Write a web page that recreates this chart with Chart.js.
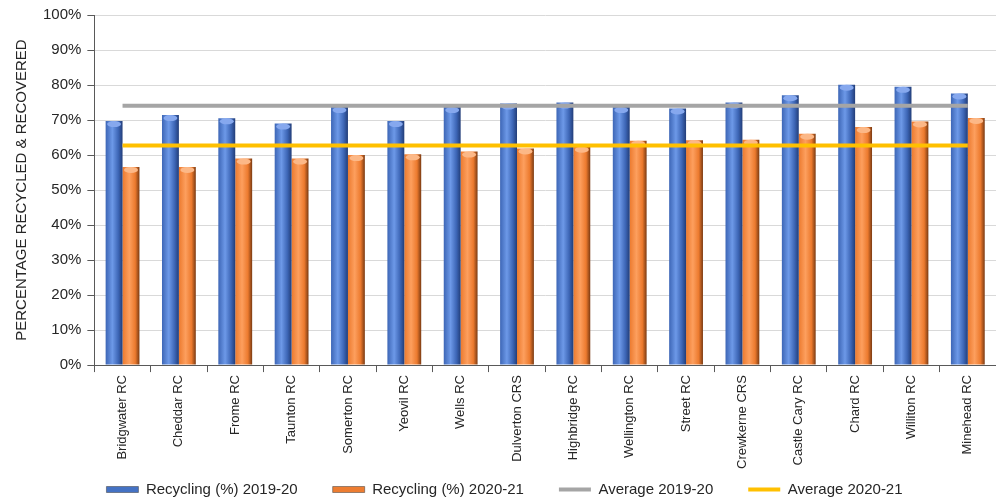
<!DOCTYPE html>
<html>
<head>
<meta charset="utf-8">
<script src="https://cdn.jsdelivr.net/npm/chart.js@4"></script>
<style>
    body { margin: 0; background: #fff; }
    #wrap { width: 996px; height: 497px; }
</style>
</head>
<body>
<div id="wrap"><canvas id="grafico"></canvas></div>
<script>
const sites = ['Bridgwater RC', 'Cheddar RC', 'Frome RC', 'Taunton RC', 'Somerton RC', 'Yeovil RC', 'Wells RC', 'Dulverton CRS',
    'Highbridge RC', 'Wellington RC', 'Street RC', 'Crewkerne CRS', 'Castle Cary RC', 'Chard RC', 'Williton RC', 'Minehead RC'];
const recycling1920 = [69.7, 71.4, 70.5, 69.0, 73.7, 69.7, 73.7, 74.7, 75.0, 73.7, 73.3, 75.0, 77.1, 80.1, 79.5, 77.6];
const recycling2021 = [56.6, 56.6, 59.0, 59.0, 60.0, 60.2, 61.0, 61.9, 62.4, 64.1, 64.2, 64.4, 66.1, 68.0, 69.6, 70.6];
const average1920 = 74.1;
const average2021 = 62.7;
const yTicks = [0, 10, 20, 30, 40, 50, 60, 70, 80, 90, 100];

const fonte = "'Liberation Sans', Arial, sans-serif";
const catPct = 0.6;

// cores dos cilindros: borda esquerda, meio, borda direita
const tonsAzul = ['#3d66b6', '#6d99e8', '#223d78'];
const tonsLaranja = ['#ec7a2e', '#fd9f5e', '#7a3a12'];

function gradienteBarra(c, tons, base) {
    const chart = c.chart;
    const x = chart.scales.x;
    if (!x || !chart.chartArea) return base;
    const centro = x.getPixelForValue(c.dataIndex);
    const w = (x.width / sites.length) * catPct / 2;
    const esq = c.datasetIndex === 0 ? centro - w : centro;
    const g = chart.ctx.createLinearGradient(esq, 0, esq + w, 0);
    g.addColorStop(0, tons[0]);
    g.addColorStop(0.4, tons[1]);
    g.addColorStop(0.75, tons[0]);
    g.addColorStop(1, tons[2]);
    return g;
}

// tampa clara no topo de cada barra
const tampaPlugin = {
    id: 'tampa',
    afterDatasetDraw(chart, args) {
        const ds = chart.data.datasets[args.index];
        if (!ds.tampa) return;
        const ctx = chart.ctx;
        ctx.save();
        args.meta.data.forEach(el => {
            const p = el.getProps(['x', 'y', 'width']);
            ctx.beginPath();
            ctx.ellipse(p.x, p.y + 3, p.width / 2 - 1.5, 3, 0, 0, Math.PI * 2);
            ctx.fillStyle = ds.tampa;
            ctx.fill();
        });
        ctx.restore();
    }
};

const ctx = document.getElementById('grafico').getContext('2d');
new Chart(ctx, {
    data: {
        labels: sites,
        datasets: [{
            type: 'bar',
            label: 'Recycling (%) 2019-20',
            data: recycling1920,
            backgroundColor: c => gradienteBarra(c, tonsAzul, '#4472C4'),
            legendColor: '#4472C4',
            tampa: '#86a8ee',
            order: 1,
            pointStyle: 'rect'
        },
        {
            type: 'bar',
            label: 'Recycling (%) 2020-21',
            data: recycling2021,
            backgroundColor: c => gradienteBarra(c, tonsLaranja, '#ED7D31'),
            legendColor: '#ED7D31',
            tampa: '#fcb887',
            order: 1,
            pointStyle: 'rect'
        },
        {
            type: 'line',
            label: 'Average 2019-20',
            data: [{x: sites[0], y: average1920}, {x: sites[sites.length - 1], y: average1920}],
            borderColor: '#A5A5A5',
            backgroundColor: '#A5A5A5',
            borderWidth: 4,
            pointRadius: 0,
            order: 0,
            pointStyle: 'line'
        },
        {
            type: 'line',
            label: 'Average 2020-21',
            data: [{x: sites[0], y: average2021}, {x: sites[sites.length - 1], y: average2021}],
            borderColor: '#FFC000',
            backgroundColor: '#FFC000',
            borderWidth: 4,
            pointRadius: 0,
            order: 0,
            pointStyle: 'line'
        }]
    },
    options: {
        responsive: true,
        maintainAspectRatio: false,
        animation: false,
        layout: { padding: { left: 13, right: 0, top: 15, bottom: -10 } },
        datasets: {
            bar: { categoryPercentage: catPct, barPercentage: 1 }
        },
        plugins: {
            tooltip: { enabled: false },
            legend: {
                position: 'bottom',
                labels: {
                    font: { family: fonte, size: 15 },
                    color: '#262626',
                    usePointStyle: true,
                    pointStyleWidth: 32,
                    boxHeight: 6,
                    padding: 10,
                    sort: (a, b) => a.datasetIndex - b.datasetIndex,
                    generateLabels: function(chart) {
                        const itens = Chart.defaults.plugins.legend.labels.generateLabels(chart);
                        itens.forEach(it => {
                            const ds = chart.data.datasets[it.datasetIndex];
                            // espaço extra entre os itens
                            if (it.datasetIndex < 3) it.text = it.text + '      ';
                            if (ds.type === 'bar') {
                                it.fillStyle = ds.legendColor;
                                it.strokeStyle = '#3a3a3a';
                                it.lineWidth = 0.5;
                            } else {
                                it.strokeStyle = ds.borderColor;
                                it.lineWidth = 4;
                            }
                        });
                        return itens;
                    }
                }
            }
        },
        scales: {
            x: {
                grid: {
                    offset: true,
                    drawOnChartArea: false,
                    tickLength: 7,
                    tickColor: '#595959'
                },
                border: { color: '#595959', width: 1 },
                ticks: {
                    font: { family: fonte, size: 13 },
                    color: '#262626',
                    maxRotation: 90,
                    minRotation: 90,
                    autoSkip: false,
                    padding: 3
                }
            },
            y: {
                min: yTicks[0],
                max: yTicks[yTicks.length - 1],
                afterBuildTicks: axis => { axis.ticks = yTicks.map(v => ({ value: v })); },
                grid: {
                    color: '#d9d9d9',
                    tickLength: 7,
                    tickColor: '#595959'
                },
                border: { color: '#595959', width: 1 },
                ticks: {
                    font: { family: fonte, size: 15 },
                    color: '#262626',
                    padding: 6,
                    callback: v => v + '%'
                },
                title: {
                    display: true,
                    text: 'PERCENTAGE RECYCLED & RECOVERED',
                    font: { family: fonte, size: 15 },
                    color: '#262626',
                    padding: { top: 0, bottom: 6 }
                }
            }
        }
    },
    plugins: [tampaPlugin]
});
</script>
</body>
</html>
